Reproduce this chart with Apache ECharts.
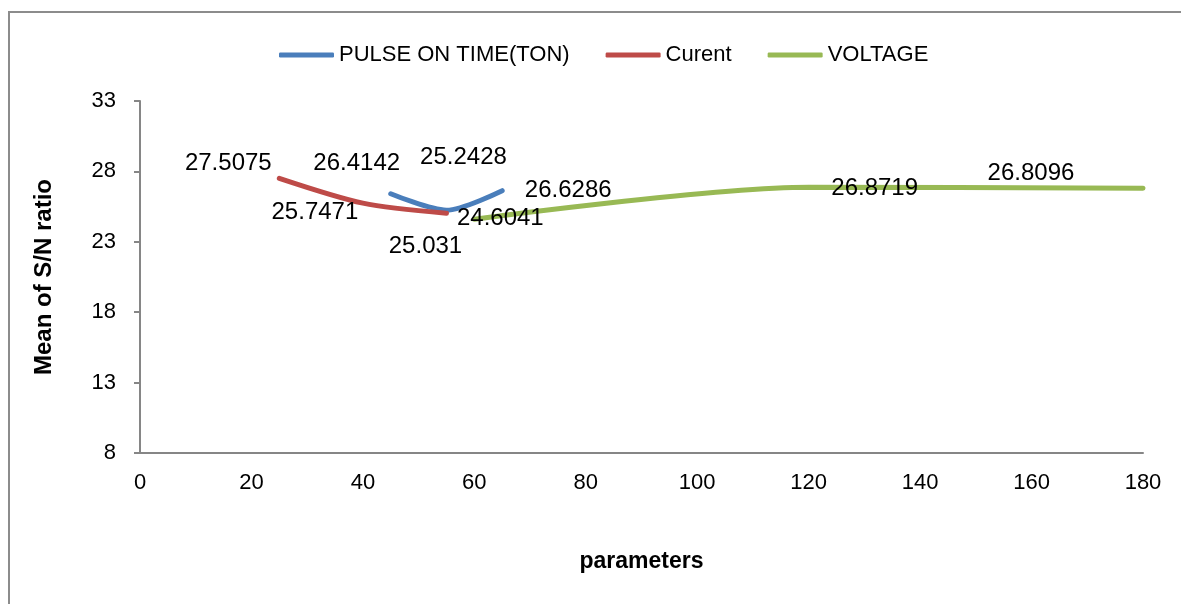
<!DOCTYPE html>
<html lang="en">
<head>
    <meta charset="UTF-8">
    <title>Mean of S/N ratio</title>
    <script src="https://cdn.jsdelivr.net/npm/echarts@6/dist/echarts.min.js"></script>
    <style>
        body { margin: 0; background: #fff; }
    </style>
</head>
<body>
    <div id="main" style="width:1181px; height:604px"></div>
    <script type="text/javascript">
        // values
        var seriesNames = ['PULSE ON TIME(TON)', 'Curent', 'VOLTAGE'];
        var tonX = [45, 55, 65];
        var tonY = [26.4142, 25.2428, 26.6286];
        var curX = [25, 40, 55];
        var curY = [27.5075, 25.7471, 25.031];
        var voltX = [60, 120, 180];
        var voltY = [24.6041, 26.8719, 26.8096];
        var yTicks = [8, 13, 18, 23, 28, 33];

        // label offsets (px) from each point, to mimic the excel placement
        var tonOff = [[-34, -30], [17, -53], [66, 0]];
        var curOff = [[-51, -15], [-48, 9], [-21, 33]];
        var voltOff = [[26, -1], [66, 1], [-112, -15]];

        var colors = ['#4a7ebb', '#be4b48', '#98b954'];
        var font = '"Liberation Sans", Arial, sans-serif';

        function pts(xs, ys, offs) {
            return xs.map(function (x, i) {
                return {
                    value: [x, ys[i]],
                    label: { offset: offs[i] }
                };
            });
        }

        function line(name, xs, ys, offs, color) {
            return {
                name: name,
                type: 'line',
                smooth: 0.28,
                data: pts(xs, ys, offs),
                symbol: 'circle',
                symbolSize: 1,
                showSymbol: true,
                lineStyle: { width: 5, color: color, cap: 'round' },
                itemStyle: { color: color },
                label: {
                    show: true,
                    position: 'inside',
                    color: '#000',
                    fontFamily: font,
                    fontSize: 24,
                    formatter: function (p) { return p.value[1]; }
                },
                emphasis: { disabled: true },
                animation: false
            };
        }

        var chart = echarts.init(document.getElementById('main'));
        var option = {
            backgroundColor: '#fff',
            color: colors,
            graphic: [{
                type: 'rect',
                shape: { x: 9, y: 12, width: 1300, height: 700 },
                style: { fill: 'none', stroke: '#8c8c8c', lineWidth: 2 },
                silent: true
            }],
            legend: {
                top: 39,
                left: 274,
                itemWidth: 55,
                itemHeight: 5,
                itemGap: 36,
                icon: 'roundRect',
                textStyle: { fontFamily: font, fontSize: 22, color: '#000' },
                data: seriesNames
            },
            grid: { left: 140, right: 38, top: 101, bottom: 151 },
            xAxis: {
                type: 'value',
                min: 0,
                max: 180,
                interval: 20,
                name: 'parameters',
                nameLocation: 'middle',
                nameGap: 97,
                nameTextStyle: { fontFamily: font, fontSize: 23, fontWeight: 'bold', color: '#000' },
                axisLine: { show: true, lineStyle: { color: '#868686', width: 2 } },
                axisTick: { show: false },
                splitLine: { show: false },
                axisLabel: { fontFamily: font, fontSize: 22, color: '#000', margin: 19 }
            },
            yAxis: {
                type: 'value',
                min: 8,
                max: 33,
                name: 'Mean of S/N ratio',
                nameLocation: 'middle',
                nameGap: 84,
                nameTextStyle: { fontFamily: font, fontSize: 24, fontWeight: 'bold', color: '#000' },
                axisLine: { show: true, lineStyle: { color: '#868686', width: 2 } },
                axisTick: { show: true, length: 6, customValues: yTicks, lineStyle: { color: '#868686', width: 2 } },
                splitLine: { show: false },
                axisLabel: { fontFamily: font, fontSize: 22, color: '#000', margin: 24, customValues: yTicks }
            },
            series: [
                line(seriesNames[0], tonX, tonY, tonOff, colors[0]),
                line(seriesNames[1], curX, curY, curOff, colors[1]),
                line(seriesNames[2], voltX, voltY, voltOff, colors[2])
            ]
        };
        chart.setOption(option);
    </script>
</body>
</html>
